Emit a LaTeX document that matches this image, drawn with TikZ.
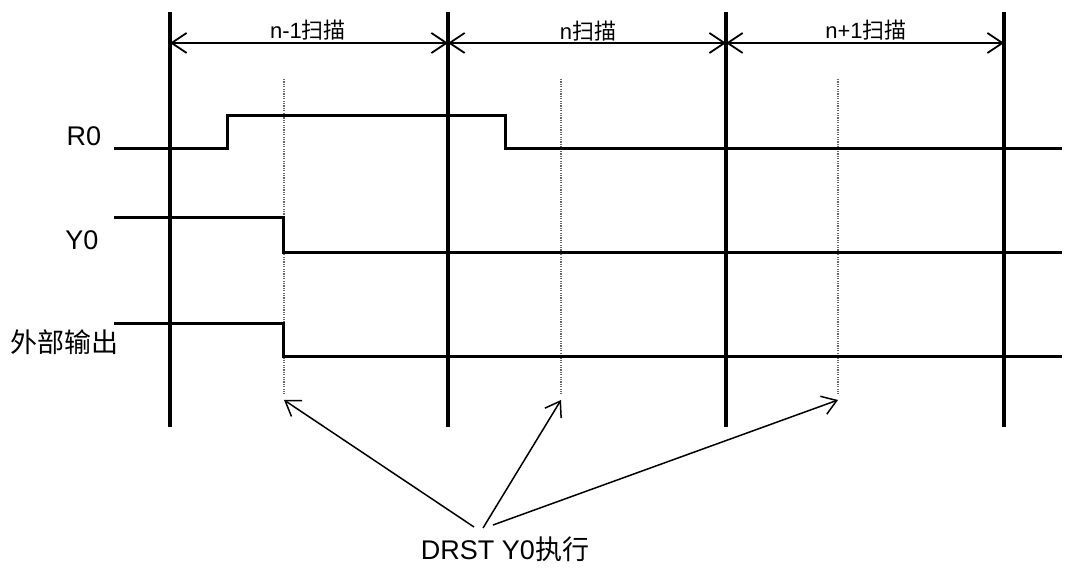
\documentclass[tikz,border=0pt]{standalone}
\usepackage{fontspec}
\setmainfont{Liberation Sans}
\newfontfamily\cjk{Noto Sans CJK SC}
\usetikzlibrary{arrows.meta}
\begin{document}
\begin{tikzpicture}[x=1pt,y=-1pt,
  scanline/.style={line width=3.3pt},
  dotline/.style={line width=1.2pt,draw=black!60,dash pattern=on 1.2pt off 1.2pt},
  signal/.style={line width=3pt,line join=miter},
  span/.style={line width=1.8pt,{Straight Barb[length=15pt,width=20pt,line width=1.8pt]}-{Straight Barb[length=15pt,width=20pt,line width=1.8pt]}},
  pointer/.style={line width=1.5pt,-{Straight Barb[length=14pt,width=19pt,line width=1.5pt]}},
  toplab/.style={inner sep=0pt,font=\fontsize{22}{24}\selectfont},
  siglab/.style={inner sep=0pt,font=\fontsize{27}{30}\selectfont}]
\useasboundingbox (0,0) rectangle (1065,569);
% scan boundaries
\foreach \n/\x in {a/170,b/448,c/726,d/1004}{
  \coordinate (\n top) at (\x,12);
  \coordinate (\n bot) at (\x,427);
  \coordinate (\n arr) at (\x,43);
  \draw[scanline] (\n top) -- (\n bot);
}
% dotted execution lines
\foreach \n/\x in {p/284,q/561,r/838}{
  \coordinate (\n top) at (\x,79);
  \coordinate (\n bot) at (\x,394);
  \coordinate (\n tip) at (\x,400);
  \draw[dotline] (\n top) -- (\n bot);
}
% span arrows
\draw[span] (aarr) -- (barr);
\draw[span] (barr) -- (carr);
\draw[span] (carr) -- (darr);
\node[toplab] (l1) at (308,30) {n-1{\cjk 扫描}};
\node[toplab] (l2) at (588,31) {n{\cjk 扫描}};
\node[toplab] (l3) at (866,30) {n+1{\cjk 扫描}};
% signals
\node[siglab] (r0) at (84,136) {R0};
\node[siglab] (y0) at (82,240) {Y0};
\node[siglab] (ext) at (64,342) {\cjk 外部输出};
\draw[signal] (114,149) -- (227,149) -- (227,116) -- (505,116) -- (505,149) -- (1062,149);
\draw[signal] (114,218) -- (283,218) -- (283,253) -- (1062,253);
\draw[signal] (114,323) -- (283,323) -- (283,356) -- (1062,356);
% bottom label and pointers
\node[siglab] (drst) at (505,549) {DRST Y0{\cjk 执行}};
\coordinate (s1) at (474,527);
\coordinate (s2) at (483,528);
\coordinate (s3) at (493,525);
\draw[pointer] (s1) -- (ptip);
\draw[pointer] (s2) -- (qtip);
\draw[pointer] (s3) -- (rtip);
\end{tikzpicture}
\end{document}
